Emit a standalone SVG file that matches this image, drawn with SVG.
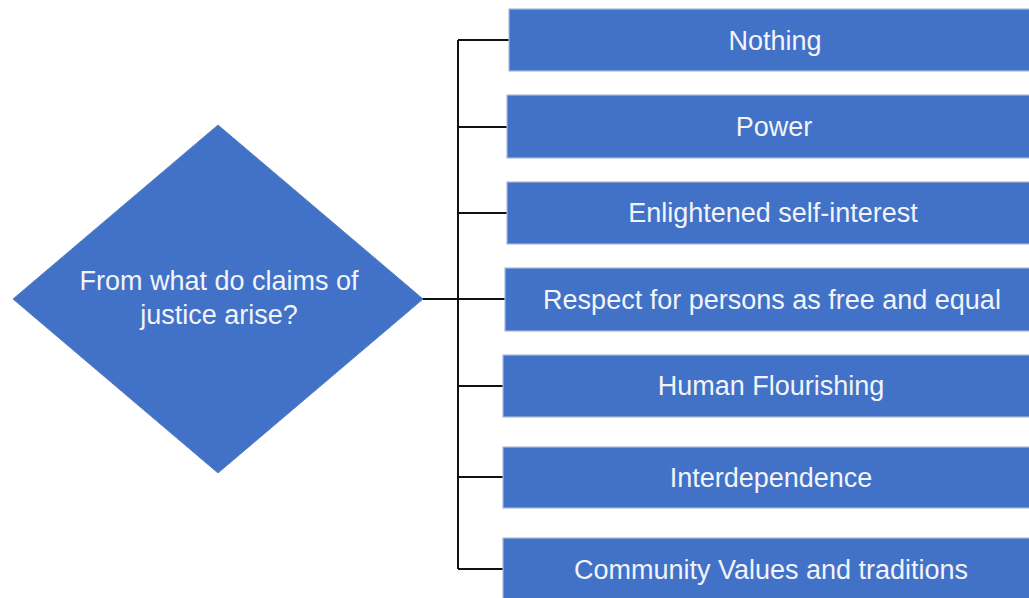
<svg xmlns="http://www.w3.org/2000/svg" width="1029" height="598" viewBox="0 0 1029 598">
<style>
.box{fill:#4271C8;stroke:#A9B9D6;stroke-width:1.2}
.lbl{font-family:"Liberation Sans",Arial,sans-serif;font-size:27px;fill:#F2F4F8;text-anchor:middle}
.con{stroke:#111;stroke-width:2;fill:none}
</style>
<rect width="1029" height="598" fill="#FFFFFF"/>
<g id="connectors">
<path class="con" d="M422 299H458"/>
<path class="con" d="M458 40V569"/>
<path class="con" d="M458 40H509"/>
<path class="con" d="M458 127H507"/>
<path class="con" d="M458 213H507"/>
<path class="con" d="M458 299H505"/>
<path class="con" d="M458 386H503"/>
<path class="con" d="M458 477H503"/>
<path class="con" d="M458 569H503"/>
</g>
<g id="question">
<polygon points="218,125 423,299 218,473 13,299" fill="#4271C8" stroke="#5B7FC0" stroke-width="1"/>
<text class="lbl" x="219" y="290">From what do claims of</text>
<text class="lbl" x="219" y="324">justice arise?</text>
</g>
<g id="n1"><rect class="box" x="509" y="9" width="531" height="62"/><text class="lbl" x="775" y="50">Nothing</text></g>
<g id="n2"><rect class="box" x="507" y="95" width="533" height="63"/><text class="lbl" x="774" y="136">Power</text></g>
<g id="n3"><rect class="box" x="507" y="182" width="533" height="62"/><text class="lbl" x="773" y="222">Enlightened self-interest</text></g>
<g id="n4"><rect class="box" x="505" y="268" width="535" height="63"/><text class="lbl" x="772" y="309">Respect for persons as free and equal</text></g>
<g id="n5"><rect class="box" x="503" y="355" width="537" height="62"/><text class="lbl" x="771" y="395">Human Flourishing</text></g>
<g id="n6"><rect class="box" x="503" y="447" width="537" height="61"/><text class="lbl" x="771" y="487">Interdependence</text></g>
<g id="n7"><rect class="box" x="503" y="538" width="537" height="70"/><text class="lbl" x="771" y="579">Community Values and traditions</text></g>
</svg>
